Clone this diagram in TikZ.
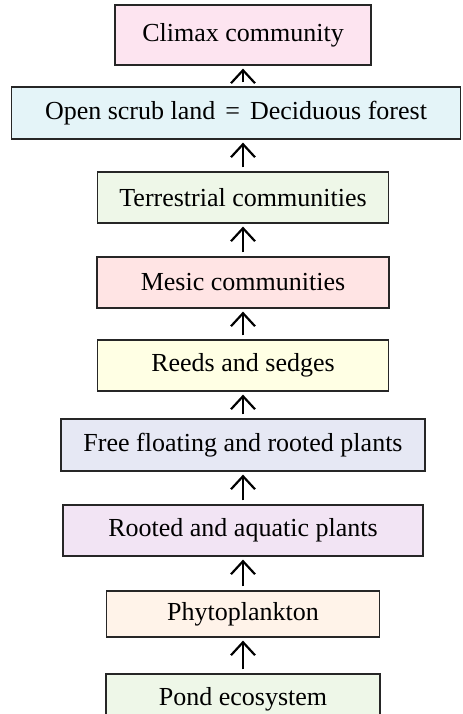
\documentclass[tikz,border=0pt]{standalone}
\usepackage{fontspec}
\setmainfont{Liberation Serif}
\usetikzlibrary{arrows.meta}
\definecolor{climaxfill}{HTML}{FDE4F0}
\definecolor{scrubfill}{HTML}{E4F4F8}
\definecolor{terrfill}{HTML}{EEF7E8}
\definecolor{mesicfill}{HTML}{FFE4E4}
\definecolor{reedsfill}{HTML}{FFFFE4}
\definecolor{floatfill}{HTML}{E6E8F4}
\definecolor{rootedfill}{HTML}{F2E4F4}
\definecolor{phytofill}{HTML}{FFF3E9}
\definecolor{pondfill}{HTML}{EEF7E8}
\tikzset{
  stage/.style={draw=black!85, line width=0.6pt, inner sep=0pt,
    font=\fontsize{13}{15}\selectfont},
  flow/.style={-{Straight Barb[length=6.5pt,width=12pt]}, line width=1.1pt,
    shorten <=2pt, shorten >=1.5pt}
}
\begin{document}
\begin{tikzpicture}[x=0.5pt,y=-0.5pt]
  \useasboundingbox (0,0) rectangle (462,714);
  \clip (0,0) rectangle (462,714);
  % Stufen der Sukzession, von oben nach unten
  \node[stage, fill=climaxfill, minimum width=128pt, minimum height=30pt] (climax) at (243,35) {Climax community};
  \node[stage, fill=scrubfill, minimum width=224.5pt, minimum height=26pt] (scrub) at (236,113) {Open scrub land\hspace{5pt}=\hspace{5pt}Deciduous forest};
  \node[stage, fill=terrfill, minimum width=145.5pt, minimum height=25.5pt] (terrestrial) at (243,197.5) {Terrestrial communities};
  \node[stage, fill=mesicfill, minimum width=146pt, minimum height=25.5pt] (mesic) at (243,282.5) {Mesic communities};
  \node[stage, fill=reedsfill, minimum width=145.5pt, minimum height=25.5pt] (reeds) at (243,365.5) {Reeds and sedges};
  \node[stage, fill=floatfill, minimum width=182pt, minimum height=26pt] (floating) at (243,445) {Free floating and rooted plants};
  \node[stage, fill=rootedfill, minimum width=180pt, minimum height=25.5pt] (rooted) at (243,530.5) {Rooted and aquatic plants};
  \node[stage, fill=phytofill, minimum width=136.5pt, minimum height=23pt] (phyto) at (243,614) {Phytoplankton};
  \node[stage, fill=pondfill, minimum width=137pt, minimum height=25.5pt] (pond) at (243,699.5) {Pond ecosystem};
  % Pfeile nach oben
  \foreach \lo/\hi in {pond/phyto, phyto/rooted, rooted/floating, floating/reeds,
      reeds/mesic, mesic/terrestrial, terrestrial/scrub, scrub/climax}
    \draw[flow] (\lo.north -| climax) -- (\hi.south -| climax);
\end{tikzpicture}
\end{document}
